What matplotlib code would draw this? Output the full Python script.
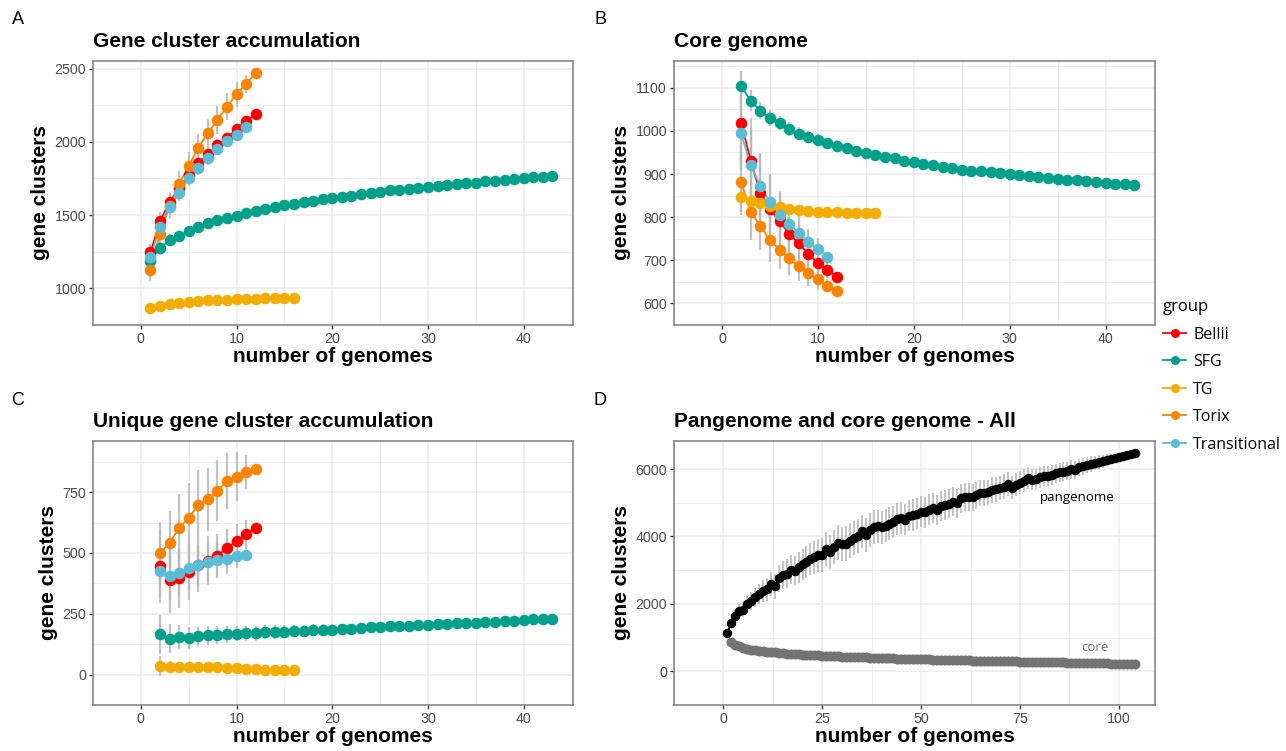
import numpy as np
import matplotlib
matplotlib.use("Agg")
import matplotlib.pyplot as plt
from matplotlib.lines import Line2D

plt.rcParams["font.family"] = ["Liberation Sans", "DejaVu Sans"]

GROUPS = ["Bellii", "SFG", "TG", "Torix", "Transitional"]
COLORS = {"Bellii": "#FF0000", "SFG": "#00A08A", "TG": "#F2AD00",
          "Torix": "#F98400", "Transitional": "#5BBCD6"}

# ---------------- A: gene cluster accumulation (x starts at 1) ----------------
acc_bellii = [1246, 1457, 1591, 1684, 1774, 1854, 1919, 1976, 2025, 2088, 2141, 2190]
acc_sfg = [1190, 1275, 1328, 1357, 1391, 1419, 1446, 1464, 1482, 1497, 1513, 1526, 1542,
           1553, 1566, 1578, 1589, 1596, 1607, 1616, 1627, 1631, 1642, 1651, 1656, 1669,
           1674, 1678, 1687, 1691, 1700, 1705, 1711, 1718, 1722, 1731, 1736, 1742, 1747,
           1754, 1758, 1763, 1769]
acc_tg = [867, 882, 893, 900, 907, 913, 918, 920, 922, 925, 927, 929, 931, 931, 934, 934]
acc_torix = [1128, 1373, 1560, 1714, 1836, 1959, 2061, 2150, 2241, 2326, 2395, 2471]
acc_trans = [1217, 1420, 1558, 1651, 1751, 1825, 1892, 1952, 2003, 2048, 2099]

acc_bellii_sd = [60, 65, 60, 60, 55, 55, 50, 45, 40, 35, 30, 0]
acc_sfg_sd = [60, 45, 40, 38, 36, 35, 34, 33, 32, 31, 30, 29, 28, 27, 26, 25, 24, 23, 22,
              21, 20, 20, 19, 18, 17, 16, 15, 15, 14, 13, 12, 12, 11, 10, 10, 9, 8, 7, 6,
              5, 4, 3, 0]
acc_tg_sd = [15, 12, 10, 9, 8, 7, 6, 6, 5, 5, 4, 4, 3, 3, 2, 0]
acc_torix_sd = [75, 70, 85, 90, 95, 95, 95, 95, 90, 85, 60, 0]
acc_trans_sd = [55, 60, 60, 55, 55, 50, 50, 45, 40, 35, 0]

# ---------------- B: core genome (x starts at 2) ----------------
core_bellii = [1019, 931, 856, 819, 790, 762, 739, 715, 694, 678, 661]
core_sfg = [1103, 1070, 1047, 1030, 1018, 1005, 993, 986, 979, 971, 965, 960, 954, 949,
            944, 939, 936, 930, 927, 924, 920, 917, 913, 910, 908, 906, 904, 902, 899, 897,
            895, 892, 890, 888, 887, 885, 883, 882, 880, 878, 877, 874]
core_tg = [846, 838, 833, 827, 823, 819, 817, 815, 812, 811, 811, 810, 810, 810, 810]
core_torix = [881, 812, 780, 746, 725, 705, 686, 671, 656, 641, 629]
core_trans = [994, 920, 873, 835, 806, 784, 763, 742, 726, 708]

core_bellii_sd = [95, 100, 90, 80, 65, 55, 45, 40, 30, 20, 0]
core_sfg_sd = [35, 25, 20, 18, 17, 16, 15, 14, 14, 13, 13, 12, 12, 11, 11, 10, 10, 10, 9,
               9, 9, 8, 8, 8, 7, 7, 7, 6, 6, 6, 5, 5, 5, 4, 4, 4, 3, 3, 2, 2, 1, 0]
core_tg_sd = [40, 25, 18, 14, 12, 10, 8, 7, 6, 5, 4, 3, 2, 1, 0]
core_torix_sd = [70, 65, 55, 50, 45, 40, 35, 30, 25, 15, 0]
core_trans_sd = [85, 85, 75, 65, 55, 45, 40, 30, 25, 0]

# ---------------- C: unique gene cluster accumulation (x starts at 2) ----------------
uniq_bellii = [445, 388, 397, 422, 449, 468, 489, 520, 550, 576, 604]
uniq_sfg = [166, 147, 155, 150, 157, 161, 163, 165, 168, 170, 170, 174, 174, 177, 179, 180,
            182, 183, 184, 186, 187, 191, 195, 195, 198, 200, 201, 204, 205, 207, 209, 211,
            212, 214, 218, 218, 219, 221, 225, 227, 229, 230]
uniq_tg = [35, 31, 30, 31, 33, 30, 30, 28, 26, 24, 22, 20, 18, 17, 19]
uniq_torix = [499, 541, 602, 644, 699, 721, 756, 794, 814, 833, 846]
uniq_trans = [426, 407, 417, 436, 449, 461, 471, 474, 488, 490]

uniq_bellii_sd = [150, 135, 125, 115, 110, 100, 90, 80, 70, 60, 0]
uniq_sfg_sd = [80, 60, 50, 45, 40, 38, 36, 34, 32, 30, 30, 29, 28, 27, 26, 25, 24, 23, 22,
               22, 21, 20, 20, 19, 18, 17, 16, 16, 15, 14, 13, 12, 11, 10, 9, 8, 7, 6, 5,
               4, 3, 0]
uniq_tg_sd = [40, 25, 20, 18, 16, 15, 14, 12, 11, 10, 8, 7, 5, 4, 0]
uniq_torix_sd = [130, 130, 140, 145, 140, 130, 125, 115, 100, 70, 0]
uniq_trans_sd = [110, 100, 95, 90, 85, 80, 70, 60, 50, 0]

# ---------------- D: all genomes ----------------
pan_all = [1140, 1440, 1650, 1790, 1830, 1990, 2080, 2200, 2300, 2380, 2430, 2580, 2520,
           2760, 2850, 2900, 3020, 2990, 3080, 3180, 3250, 3330, 3390, 3440, 3450, 3620,
           3540, 3680, 3820, 3780, 3790, 3880, 3950, 4020, 4150, 4050, 4200, 4280, 4300,
           4270, 4320, 4380, 4430, 4520, 4540, 4500, 4620, 4640, 4680, 4740, 4720, 4800,
           4850, 4780, 4900, 4930, 4970, 5030, 4980, 5130, 5170, 5180, 5160, 5230, 5280,
           5290, 5310, 5380, 5400, 5440, 5480, 5560, 5450, 5530, 5600, 5660, 5730, 5690,
           5700, 5760, 5790, 5800, 5830, 5870, 5900, 5920, 5950, 5990, 5980, 6050, 6080,
           6110, 6150, 6180, 6200, 6230, 6270, 6300, 6320, 6350, 6380, 6410, 6440, 6480]
pan_all_sd = [100, 150, 180, 200, 220, 240, 260, 280, 300, 320,
              340, 360, 380, 400, 410, 420, 430, 440, 450, 460,
              470, 480, 490, 500, 500, 510, 510, 510, 510, 510,
              510, 510, 510, 500, 500, 500, 500, 500, 500, 490,
              490, 490, 480, 480, 480, 470, 470, 470, 460, 460,
              460, 450, 450, 440, 440, 440, 430, 430, 420, 420,
              410, 410, 400, 400, 390, 390, 380, 380, 370, 360,
              360, 350, 340, 340, 330, 330, 320, 320, 310, 310,
              300, 300, 290, 290, 280, 280, 270, 270, 260, 260,
              250, 240, 230, 220, 210, 200, 180, 160, 140, 120,
              100, 70, 40, 0]
core_all = [870, 790, 740, 700, 670, 645, 625, 608, 594, 582, 570, 558, 548, 538, 528, 520,
            512, 504, 497, 490, 484, 477, 471, 465, 460, 455, 449, 444, 439, 434, 429, 424,
            420, 415, 411, 407, 403, 399, 395, 391, 387, 383, 379, 376, 372, 369, 365, 362,
            358, 355, 352, 349, 346, 343, 340, 337, 334, 331, 328, 325, 322, 320, 317, 314,
            311, 309, 306, 303, 301, 298, 296, 293, 291, 288, 286, 283, 281, 278, 276, 273,
            271, 268, 266, 263, 261, 258, 256, 253, 251, 248, 246, 243, 241, 238, 236, 233,
            231, 228, 226, 223, 220, 217, 214]
core_all_sd = [60, 45, 40, 36, 33, 31, 30, 29, 28, 27, 26, 26, 25, 25, 24, 24, 23, 23, 22,
               22, 22, 21, 21, 21, 20, 20, 20, 20, 19, 19, 19, 19, 18, 18, 18, 18, 18, 17,
               17, 17, 17, 17, 16, 16, 16, 16, 16, 15, 15, 15, 15, 15, 15, 14, 14, 14, 14,
               14, 14, 13, 13, 13, 13, 13, 13, 12, 12, 12, 12, 12, 12, 11, 11, 11, 11, 11,
               11, 10, 10, 10, 10, 10, 9, 9, 9, 9, 8, 8, 8, 8, 7, 7, 7, 6, 6, 5, 5, 4, 4,
               3, 2, 1, 0]

ERR_COLOR = "#b8b8b8"
GRID = "#EBEBEB"
TICK_TXT = "#4D4D4D"
SANS2 = ["Open Sans", "DejaVu Sans"]


def style_axes(ax, xticks, yticks, xlim, ylim, title):
    ax.set_xlim(*xlim)
    ax.set_ylim(*ylim)
    ax.set_xticks(xticks)
    ax.set_yticks(yticks)
    # minor grid halfway between major breaks
    xs = np.diff(xticks)[0]
    ys = np.diff(yticks)[0]
    ax.set_xticks(np.arange(xticks[0] - xs / 2, xlim[1], xs), minor=True)
    ax.set_yticks(np.arange(yticks[0] - ys / 2, ylim[1], ys), minor=True)
    ax.grid(True, which="major", color=GRID, lw=1.1, zorder=0)
    ax.grid(True, which="minor", color=GRID, lw=0.6, zorder=0)
    ax.set_axisbelow(True)
    ax.tick_params(which="minor", length=0)
    ax.tick_params(which="major", length=3.2, width=1.0, color="#333333",
                   labelsize=10.3, labelcolor=TICK_TXT, pad=1.8)
    for s in ax.spines.values():
        s.set_color("#7F7F7F")
        s.set_linewidth(1.1)
    ax.set_xlabel("number of genomes", fontsize=15, fontweight="bold", labelpad=0.5)
    ax.set_ylabel("gene clusters", fontsize=15, fontweight="bold", labelpad=3)
    ax.set_title(title, loc="left", fontsize=15, fontweight="bold", pad=10)


def draw_groups(ax, series):
    for name, x0, vals, sd in series:
        x = np.arange(x0, x0 + len(vals))
        v = np.array(vals, float)
        e = np.array(sd, float)
        ax.vlines(x, v - e, v + e, color=ERR_COLOR, lw=1.6, alpha=0.85, zorder=2)
    for name, x0, vals, sd in series:
        x = np.arange(x0, x0 + len(vals))
        ax.plot(x, vals, color=COLORS[name], lw=1.3, zorder=3)
    for name, x0, vals, sd in series:
        x = np.arange(x0, x0 + len(vals))
        ax.plot(x, vals, ls="none", marker="o", ms=7.3, color=COLORS[name],
                mec=COLORS[name], zorder=4)


fig = plt.figure(figsize=(12.86, 7.51), dpi=100)
W, H = 1286, 751


def add_ax(left, top, right, bottom):
    return fig.add_axes([left / W, 1 - bottom / H, (right - left) / W, (bottom - top) / H])


axA = add_ax(93, 61, 573, 325)
axB = add_ax(674, 61, 1155, 325)
axC = add_ax(93, 441, 573, 705)
axD = add_ax(674, 441, 1155, 705)

draw_groups(axA, [
    ("Bellii", 1, acc_bellii, acc_bellii_sd),
    ("SFG", 1, acc_sfg, acc_sfg_sd),
    ("TG", 1, acc_tg, acc_tg_sd),
    ("Torix", 1, acc_torix, acc_torix_sd),
    ("Transitional", 1, acc_trans, acc_trans_sd),
])
style_axes(axA, [0, 10, 20, 30, 40], [1000, 1500, 2000, 2500], (-1.15, 45.15), (789, 2552),
           "Gene cluster accumulation")

draw_groups(axB, [
    ("Bellii", 2, core_bellii, core_bellii_sd),
    ("SFG", 2, core_sfg, core_sfg_sd),
    ("TG", 2, core_tg, core_tg_sd),
    ("Torix", 2, core_torix, core_torix_sd),
    ("Transitional", 2, core_trans, core_trans_sd),
])
style_axes(axB, [0, 10, 20, 30, 40], [600, 700, 800, 900, 1000, 1100], (-1.2, 45.15),
           (598, 1162), "Core genome")

draw_groups(axC, [
    ("Bellii", 2, uniq_bellii, uniq_bellii_sd),
    ("SFG", 2, uniq_sfg, uniq_sfg_sd),
    ("TG", 2, uniq_tg, uniq_tg_sd),
    ("Torix", 2, uniq_torix, uniq_torix_sd),
    ("Transitional", 2, uniq_trans, uniq_trans_sd),
])
style_axes(axC, [0, 10, 20, 30, 40], [0, 250, 500, 750], (-1.15, 45.15), (-53, 960),
           "Unique gene cluster accumulation")

# panel D: pangenome and core for all genomes
xp = np.arange(1, 1 + len(pan_all))
xc = np.arange(2, 2 + len(core_all))
pa, ps = np.array(pan_all, float), np.array(pan_all_sd, float)
ca, cs = np.array(core_all, float), np.array(core_all_sd, float)
axD.vlines(xp, pa - ps, pa + ps, color=ERR_COLOR, lw=1.4, alpha=0.85, zorder=2)
axD.vlines(xc, ca - cs, ca + cs, color=ERR_COLOR, lw=1.4, alpha=0.85, zorder=2)
axD.plot(xp, pa, color="black", lw=1.3, marker="o", ms=5.8, zorder=3)
axD.plot(xc, ca, color="#737373", lw=1.3, marker="o", ms=6.2, zorder=3)
axD.text(89.4, 5150, "pangenome", fontsize=9.5, family=SANS2,
         color="black", ha="center", va="center")
axD.text(93.9, 700, "core", fontsize=9.5, family=SANS2,
         color="#737373", ha="center", va="center")
style_axes(axD, [0, 25, 50, 75, 100], [0, 2000, 4000, 6000], (-4.15, 109.15), (-114, 6833),
           "Pangenome and core genome - All")

# panel tags
for tag, x, y in [("A", 18, 20), ("B", 600, 20), ("C", 18, 400), ("D", 600, 400)]:
    fig.text(x / W, 1 - y / H, tag, fontsize=13, ha="center", va="center")

# legend
handles = [Line2D([0], [0], color=COLORS[g], lw=1.3, marker="o", ms=5.5) for g in GROUPS]
leg = fig.legend(handles, GROUPS, title="group", loc="upper left",
                 bbox_to_anchor=(1163 / W, 1 - 299 / H), frameon=False,
                 prop={"family": SANS2, "size": 11.5},
                 handlelength=1.45, handletextpad=0.45, labelspacing=0.72,
                 borderpad=0, borderaxespad=0, alignment="left")
leg.get_title().set_fontfamily(SANS2)
leg.get_title().set_fontsize(12)

fig.savefig("out.png", dpi=100)
